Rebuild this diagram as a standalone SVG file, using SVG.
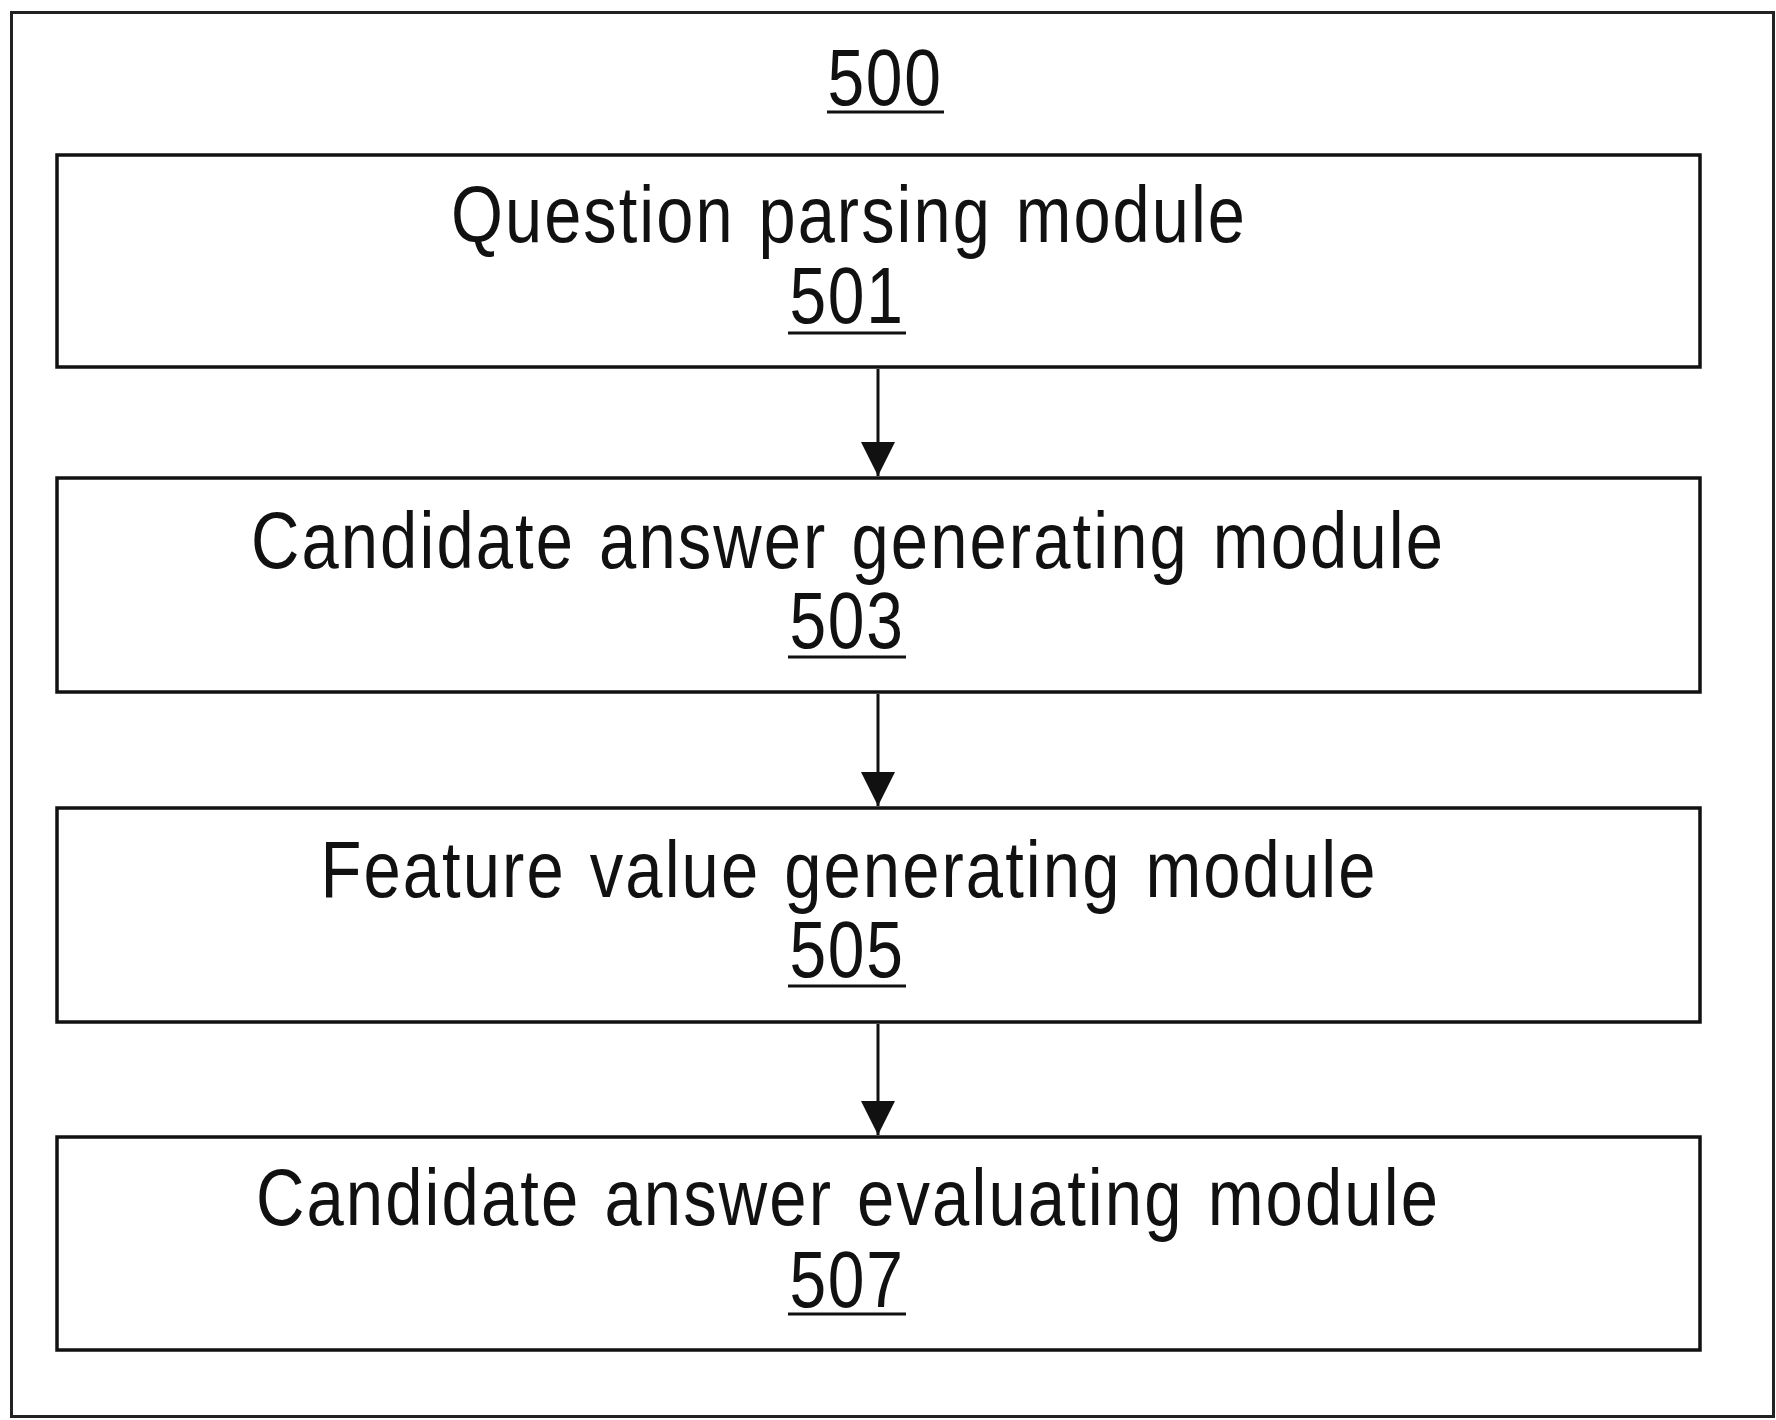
<svg xmlns="http://www.w3.org/2000/svg" width="1776" height="1420" viewBox="0 0 1776 1420">
<style>
.box{fill:#fff;stroke:#111;stroke-width:3.5}
.t{font-family:"Liberation Sans",Arial,sans-serif;font-size:80px;fill:#111;text-anchor:middle;letter-spacing:2.5px;word-spacing:4px}
.n{font-family:"Liberation Sans",Arial,sans-serif;font-size:80px;fill:#111;text-anchor:middle;letter-spacing:2px}
.ul{stroke:#111;stroke-width:3}
.conn{stroke:#111;stroke-width:3;fill:none}
</style>
<defs>
<marker id="ah" markerUnits="userSpaceOnUse" markerWidth="36" markerHeight="52" refX="34" refY="17" orient="auto" viewBox="0 0 36 34">
<path d="M0,0 L34,17 L0,34 Z" fill="#111"/>
</marker>
</defs>
<rect width="1776" height="1420" fill="#fff"/>
<rect x="11.5" y="12.5" width="1762" height="1404" fill="none" stroke="#222" stroke-width="3"/>
<g id="label500">
<text class="n" x="885" y="105" textLength="115" lengthAdjust="spacingAndGlyphs">500</text>
<line class="ul" x1="827" y1="112" x2="944" y2="112"/>
</g>
<g id="node501">
<rect class="box" x="57" y="155" width="1643" height="212"/>
<text class="t" x="849" y="242" textLength="796" lengthAdjust="spacingAndGlyphs">Question parsing module</text>
<text class="n" x="847" y="323" textLength="115" lengthAdjust="spacingAndGlyphs">501</text>
<line class="ul" x1="788" y1="333" x2="906" y2="333"/>
</g>
<g id="node503">
<rect class="box" x="57" y="478" width="1643" height="214"/>
<text class="t" x="848" y="568" textLength="1194" lengthAdjust="spacingAndGlyphs">Candidate answer generating module</text>
<text class="n" x="847" y="648" textLength="115" lengthAdjust="spacingAndGlyphs">503</text>
<line class="ul" x1="788" y1="657" x2="906" y2="657"/>
</g>
<g id="node505">
<rect class="box" x="57" y="808" width="1643" height="214"/>
<text class="t" x="849" y="897" textLength="1057" lengthAdjust="spacingAndGlyphs">Feature value generating module</text>
<text class="n" x="847" y="977" textLength="115" lengthAdjust="spacingAndGlyphs">505</text>
<line class="ul" x1="788" y1="986" x2="906" y2="986"/>
</g>
<g id="node507">
<rect class="box" x="57" y="1137" width="1643" height="213"/>
<text class="t" x="848" y="1225" textLength="1184" lengthAdjust="spacingAndGlyphs">Candidate answer evaluating module</text>
<text class="n" x="847" y="1307" textLength="115" lengthAdjust="spacingAndGlyphs">507</text>
<line class="ul" x1="788" y1="1314" x2="906" y2="1314"/>
</g>
<g id="connectors">
<line class="conn" x1="878" y1="369" x2="878" y2="476" marker-end="url(#ah)"/>
<line class="conn" x1="878" y1="694" x2="878" y2="806" marker-end="url(#ah)"/>
<line class="conn" x1="878" y1="1024" x2="878" y2="1135" marker-end="url(#ah)"/>
</g>
</svg>
